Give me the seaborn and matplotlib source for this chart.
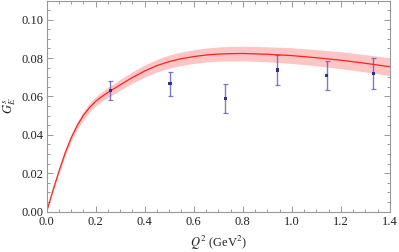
import numpy as np
import pandas as pd
import seaborn as sns
import matplotlib
matplotlib.use("Agg")
import matplotlib.pyplot as plt
from matplotlib import ticker

# fit curve
q2_fit = [0.0, 0.025, 0.05, 0.075, 0.1, 0.125, 0.15, 0.175, 0.2, 0.225, 0.25, 0.275,
          0.3, 0.35, 0.4, 0.45, 0.5, 0.55, 0.6, 0.65, 0.7, 0.75, 0.8,
          0.9, 1.0, 1.1, 1.2, 1.3, 1.4]
ge_fit = [0.0, 0.0108, 0.0210, 0.0305, 0.0385, 0.0450, 0.0502, 0.0543, 0.0575, 0.0600, 0.0621, 0.0641,
          0.0661, 0.0699, 0.0733, 0.0761, 0.0782, 0.0797, 0.0808, 0.0816, 0.0821, 0.0823, 0.0824,
          0.0820, 0.0813, 0.0802, 0.0789, 0.0773, 0.0755]
ge_err = [0.0, 0.0005, 0.0010, 0.0014, 0.0017, 0.0019, 0.0021, 0.0023, 0.0024, 0.0025, 0.0026, 0.0027,
          0.0028, 0.0030, 0.0031, 0.0033, 0.0034, 0.0035, 0.0036, 0.0036, 0.0037, 0.0038, 0.0038,
          0.0039, 0.0041, 0.0042, 0.0044, 0.0045, 0.0047]

# data points
q2_pts = [0.26, 0.503, 0.728, 0.941, 1.143, 1.333]
ge_pts = [0.0631, 0.0667, 0.0589, 0.0738, 0.0709, 0.0719]
ge_pts_err = [0.0048, 0.0062, 0.0074, 0.0079, 0.0074, 0.0079]

sns.set_theme(style="ticks")
plt.rcParams['font.family'] = ['Liberation Serif', 'DejaVu Serif']
plt.rcParams['mathtext.fontset'] = 'stix'

fit_df = pd.DataFrame({"Q2": q2_fit, "GE": ge_fit, "err": ge_err})
pts_df = pd.DataFrame({"Q2": q2_pts, "GE": ge_pts, "err": ge_pts_err})

fig = plt.figure(figsize=(3.99, 2.52), dpi=100)
ax = fig.add_axes([0.117, 0.16, 0.860, 0.838])

lo = fit_df["GE"] - fit_df["err"]
hi = fit_df["GE"] + fit_df["err"]
ax.fill_between(fit_df["Q2"], lo, hi, color='#ffc4c4', lw=0)
sns.lineplot(data=fit_df, x="Q2", y="GE", color='#ff2020', lw=0.9, ax=ax)

ax.errorbar(pts_df["Q2"], pts_df["GE"], yerr=pts_df["err"], fmt='none',
            ecolor='#5c5cb0', alpha=0.8, elinewidth=1.0, capsize=1.8, capthick=0.9)
sns.scatterplot(data=pts_df, x="Q2", y="GE", marker='s', s=5, color='#2e2e96',
                edgecolor='none', ax=ax, zorder=5)

ax.set_xlim(0, 1.4)
ax.set_ylim(0, 0.11)
ax.xaxis.set_major_locator(ticker.MultipleLocator(0.2))
ax.xaxis.set_minor_locator(ticker.MultipleLocator(0.05))
ax.yaxis.set_major_locator(ticker.MultipleLocator(0.02))
ax.yaxis.set_minor_locator(ticker.MultipleLocator(0.005))
ax.xaxis.set_major_formatter(ticker.StrMethodFormatter("{x:.1f}"))
ax.yaxis.set_major_formatter(ticker.StrMethodFormatter("{x:.2f}"))

ax.tick_params(which='both', direction='in', top=True, right=True, colors='#888888',
               labelcolor='#222222', labelsize=9, width=0.6, pad=2)
ax.tick_params(axis='x', which='major', pad=3)
ax.tick_params(which='major', length=4)
ax.tick_params(which='minor', length=2)
for s in ax.spines.values():
    s.set_color('#999999')
    s.set_linewidth(0.8)

ax.set_xlabel(r'$Q^2$ (GeV$^2$)', fontsize=9, color='#222222', labelpad=4)
ax.set_ylabel(r'$G_E^s$', fontsize=9, color='#222222', labelpad=3)

fig.savefig('out.png', dpi=100)
